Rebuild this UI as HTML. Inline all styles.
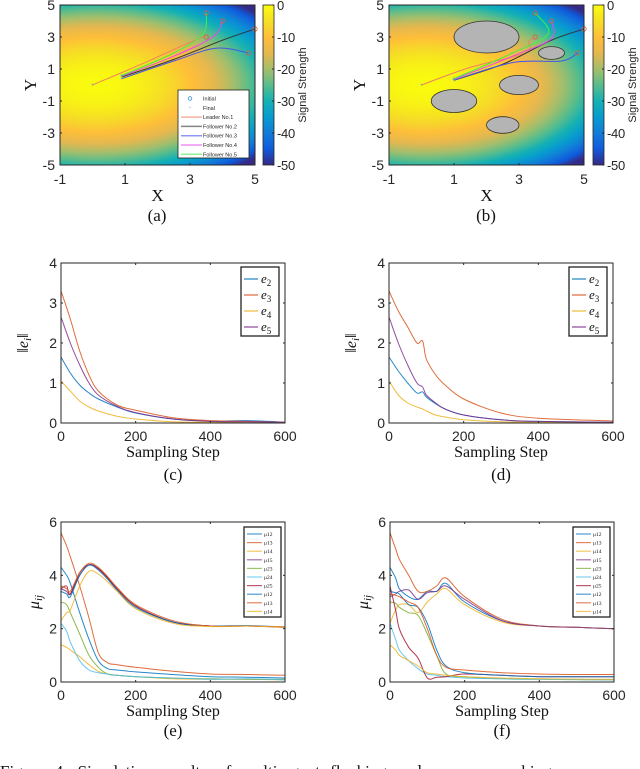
<!DOCTYPE html>
<html><head><meta charset="utf-8">
<style>
html,body{margin:0;padding:0;background:#fff;}
#wrap{position:relative;width:640px;height:769px;overflow:hidden;}
canvas{position:absolute;}
svg{position:absolute;left:0;top:0;}
.tk{font-family:"Liberation Sans",sans-serif;fill:#262626;}
.sr{font-family:"Liberation Serif",serif;fill:#111;}
</style></head>
<body>
<div id="wrap">
<canvas id="hmA" width="195" height="160" style="left:60px;top:5px"></canvas>
<canvas id="cbA" width="11" height="160" style="left:263px;top:5px"></canvas>
<canvas id="hmB" width="195" height="160" style="left:389px;top:5px"></canvas>
<canvas id="cbB" width="11" height="160" style="left:593px;top:5px"></canvas>
<svg id="svg" width="640" height="769" xmlns="http://www.w3.org/2000/svg"></svg>
</div>
<script>
// ---- data ----
const errSteps = [0,25,50,75,100,150,200,300,400,500,600];
const errC_e2 = [1.65,1.25,0.95,0.75,0.6,0.4,0.25,0.1,0.05,0.06,0.02];
const errC_e3 = [3.3,2.6,1.8,1.2,0.8,0.45,0.32,0.13,0.06,0.04,0.02];
const errC_e4 = [1.05,0.8,0.55,0.4,0.3,0.17,0.1,0.03,0.02,0.01,0.01];
const errC_e5 = [2.65,2.0,1.45,1.0,0.7,0.42,0.26,0.1,0.04,0.03,0.02];
const errStepsD = [0,25,50,75,90,100,125,150,200,300,400,600];
const errD_e2 = [1.65,1.3,1.0,0.75,0.78,0.65,0.48,0.35,0.2,0.08,0.04,0.02];
const errD_e3 = [3.3,2.8,2.4,2.0,2.05,1.6,1.2,0.95,0.6,0.25,0.12,0.05];
const errD_e4 = [1.05,0.7,0.5,0.4,0.35,0.3,0.2,0.15,0.08,0.03,0.02,0.01];
const errD_e5 = [2.65,2.0,1.45,1.0,0.9,0.7,0.5,0.35,0.2,0.08,0.04,0.02];
const errLabels = ['2','3','4','5'];
const errTicksY = [0,1,2,3,4];
const stepTicks = [0,200,400,600];
const muSteps = [0,15,25,50,75,100,125,150,200,300,400,500,600];
const muE = [
 [4.3,4.0,3.7,2.6,1.6,0.8,0.5,0.45,0.38,0.28,0.2,0.18,0.15],
 [5.6,5.1,4.7,3.6,2.4,1.1,0.72,0.65,0.55,0.4,0.3,0.28,0.25],
 [1.4,1.3,1.2,0.95,0.65,0.4,0.3,0.25,0.2,0.12,0.1,0.1,0.08],
 [3.5,3.4,3.3,4.0,4.4,4.25,3.9,3.5,2.85,2.25,2.1,2.1,2.05],
 [3.0,2.9,2.6,1.8,1.0,0.55,0.3,0.25,0.2,0.15,0.12,0.1,0.1],
 [2.2,1.9,1.5,0.8,0.45,0.35,0.3,0.25,0.2,0.15,0.1,0.12,0.08],
 [3.5,3.6,3.3,4.1,4.4,4.25,3.9,3.5,2.85,2.25,2.1,2.1,2.05],
 [3.4,3.3,3.2,4.0,4.38,4.2,3.85,3.45,2.8,2.25,2.1,2.12,2.05],
 [3.6,3.5,3.4,4.1,4.45,4.3,3.95,3.55,2.9,2.3,2.1,2.1,2.07],
 [2.3,2.6,2.7,3.6,4.15,4.05,3.75,3.4,2.75,2.2,2.08,2.1,2.05]
];
const muF = [
 [4.3,3.9,3.5,3.2,3.1,3.4,3.4,3.7,3.0,2.3,2.1,2.05,2.0],
 [5.6,5.0,4.6,4.0,3.4,3.4,3.6,3.9,3.2,2.35,2.1,2.05,2.0],
 [2.2,2.7,2.9,2.9,2.6,3.0,3.3,3.5,2.9,2.25,2.1,2.05,2.0],
 [3.2,3.3,3.4,3.45,3.1,3.35,3.4,3.6,3.1,2.3,2.1,2.05,2.0],
 [3.0,2.95,2.8,2.6,2.5,1.8,1.0,0.3,0.2,0.12,0.1,0.09,0.08],
 [2.2,1.6,1.2,0.8,0.5,0.3,0.25,0.2,0.15,0.12,0.1,0.09,0.08],
 [3.6,2.7,2.0,1.3,0.9,0.15,0.18,0.2,0.3,0.25,0.2,0.2,0.2],
 [3.4,3.35,3.3,2.9,2.8,2.2,1.2,0.6,0.35,0.25,0.2,0.2,0.2],
 [3.3,3.25,3.2,3.0,2.8,2.0,1.0,0.55,0.45,0.35,0.3,0.28,0.28],
 [1.4,1.2,1.0,0.8,0.6,0.35,0.3,0.25,0.2,0.15,0.12,0.11,0.1]
];
const muLabels = ['12','13','14','15','23','24','25','12','13','14'];
const muTicksY = [0,2,4,6];
const xyTicks = [-1,1,3,5];
const xyTicksY = [5,3,1,-1,-3,-5];
const cbTicks = [0,-10,-20,-30,-40,-50];
const obstacles = [[2,3,1,1],[4,2,0.4,0.4],[3,0,0.6,0.6],[1,-1,0.7,0.72],[2.5,-2.5,0.5,0.52]];
const trajA = [
 [[0,0],[1.5,1.3],[3.2,2.85],[3.5,3]],
 [[0.9,0.5],[2.5,1.6],[4,2.8],[5,3.5]],
 [[0.9,0.4],[2.5,1.5],[3.8,2.3],[4.8,2]],
 [[0.9,0.55],[2.5,1.8],[3.7,3],[4,4]],
 [[0.9,0.6],[2.5,2],[3.4,3.2],[3.5,4.5]]
];
const trajB = [
 [[0,0],[1.5,1.1],[3.2,2],[3.3,2.7],[3.5,3]],
 [[1,0.3],[2.5,1.3],[4,2.8],[5,3.5]],
 [[1,0.3],[2.8,1.4],[4.3,1.5],[4.8,2]],
 [[1,0.35],[2.8,1.8],[4,2.9],[4,4]],
 [[1,0.4],[2.8,2],[3.9,3.2],[3.5,4.5]]
];
const trajColors = ['#f08060','#333','#4455ee','#ee44ee','#44ee44'];
const cols = ['#0072BD','#D95319','#EDB120','#7E2F8E','#77AC30','#4DBEEE','#A2142F','#0072BD','#D95319','#EDB120'];

// ---- helpers ----
const parula=[[53,42,135],[15,92,221],[18,125,216],[7,156,207],[21,177,180],[89,189,140],[165,190,107],[228,184,80],[254,190,58],[246,222,38],[249,251,14]];
function cmap(t){t=Math.max(0,Math.min(1,t));const n=parula.length-1;const f=t*n,i=Math.min(n-1,Math.floor(f)),r=f-i;return parula[i].map((c,k)=>Math.round(c+(parula[i+1][k]-c)*r));}
function field(x,y){return -1.12*((x-0.1)*(x-0.1)+y*y);}
function heat(id){const c=document.getElementById(id),g=c.getContext('2d'),im=g.createImageData(195,160);
 for(let j=0;j<160;j++)for(let i=0;i<195;i++){const x=-1+6*(i+.5)/195,y=5-10*(j+.5)/160;const col=cmap((field(x,y)+50)/50);const p=(j*195+i)*4;im.data[p]=col[0];im.data[p+1]=col[1];im.data[p+2]=col[2];im.data[p+3]=255;}
 g.putImageData(im,0,0);}
function cbar(id){const c=document.getElementById(id),g=c.getContext('2d');for(let j=0;j<160;j++){const col=cmap(1-j/159);g.fillStyle='rgb('+col+')';g.fillRect(0,j,11,1);}}
heat('hmA');heat('hmB');cbar('cbA');cbar('cbB');

const svg=document.getElementById('svg');const NS='http://www.w3.org/2000/svg';
function el(tag,attrs,parent,txt){const e=document.createElementNS(NS,tag);for(const k in attrs)e.setAttribute(k,attrs[k]);if(txt!==undefined)e.textContent=txt;(parent||svg).appendChild(e);return e;}
function smooth(pts){let d='M'+pts[0][0].toFixed(1)+','+pts[0][1].toFixed(1);
 for(let i=0;i<pts.length-1;i++){const p0=pts[Math.max(0,i-1)],p1=pts[i],p2=pts[i+1],p3=pts[Math.min(pts.length-1,i+2)];
 d+=' C'+(p1[0]+(p2[0]-p0[0])/6).toFixed(1)+','+(p1[1]+(p2[1]-p0[1])/6).toFixed(1)+' '+(p2[0]-(p3[0]-p1[0])/6).toFixed(1)+','+(p2[1]-(p3[1]-p1[1])/6).toFixed(1)+' '+p2[0].toFixed(1)+','+p2[1].toFixed(1);}
 return d;}
function axes(L,T,W,H){const b=el('rect',{x:L,y:T,width:W,height:H,fill:'none',stroke:'#262626','stroke-width':1});}
function caption(x,y,t){const e=el('text',{x:x,y:y,'text-anchor':'middle','font-size':17,class:'sr'},svg,t);}

// ---- map panels ----
function mapPanel(L,cbL,traj,obs,tag,withLegend){
 const T=5,W=195,H=160;const sx=x=>L+(x+1)/6*W,sy=y=>T+(5-y)/10*H;
 const g=el('g',{});
 if(obs)obs.forEach(o=>{const e=el('ellipse',{cx:sx(o[0]),cy:sy(o[1]),rx:o[2]/6*W,ry:o[3]/10*H,fill:'#b4b4b4',stroke:'#333','stroke-width':0.8},g);});
 traj.forEach((tr,k)=>{const p=tr.map(q=>[sx(q[0]),sy(q[1])]);const e=el('path',{d:smooth(p),fill:'none',stroke:trajColors[k],'stroke-width':1},g);
  const s=p[p.length-1];el('circle',{cx:s[0],cy:s[1],r:2.2,fill:'none',stroke:'#d9633a','stroke-width':0.8},g);
  el('text',{x:p[0][0],y:p[0][1]+2,'font-size':6,fill:'#3aa0e0','text-anchor':'middle'},g,'+');});
 axes(L,T,W,H);
 xyTicks.forEach(v=>{el('line',{x1:sx(v),x2:sx(v),y1:T+H,y2:T+H-2,stroke:'#262626'},g);const e=el('text',{x:sx(v),y:184,'text-anchor':'middle','font-size':14,class:'tk'},g,v);});
 xyTicksY.forEach(v=>{el('line',{x1:L,x2:L+2,y1:sy(v),y2:sy(v),stroke:'#262626'},g);const e=el('text',{x:L-5,y:sy(v)+5,'text-anchor':'end','font-size':14,class:'tk'},g,v);});
 let e=el('text',{x:L+W/2,y:201,'text-anchor':'middle','font-size':17,class:'sr'},g,'X');
 e=el('text',{x:0,y:0,'text-anchor':'middle','font-size':17,class:'sr',transform:'translate('+(L-24)+','+(T+H/2)+') rotate(-90)'},g,'Y');
 el('rect',{x:cbL,y:T,width:11,height:H,fill:'none',stroke:'#262626','stroke-width':0.8},g);
 cbTicks.forEach(v=>{const y=T+(-v)/50*H;el('line',{x1:cbL+11,x2:cbL+9,y1:y,y2:y,stroke:'#262626'},g);const t=el('text',{x:cbL+14,y:y+5,'font-size':13,'letter-spacing':'-0.3',class:'tk'},g,v);});
 e=el('text',{x:0,y:0,'text-anchor':'middle','font-size':11,class:'tk',transform:'translate('+(cbL+43)+','+(T+H/2)+') rotate(-90)'},g,'Signal Strength');
 if(withLegend){const lg=el('g',{},g);
  el('rect',{x:178,y:90,width:71,height:68,fill:'#fff',stroke:'#222','stroke-width':0.8},lg);
  const names=['Initial','Final','Leader No.1','Follower No.2','Follower No.3','Follower No.4','Follower No.5'];
  names.forEach((n,i)=>{const y=100+i*9.3;
   if(i==0)el('circle',{cx:190,cy:y-1.5,r:1.8,fill:'none',stroke:'#3a8fd0','stroke-width':0.8},lg);
   else if(i==1)el('text',{x:190,y:y+0.5,'font-size':6,fill:'#7bb8e8','text-anchor':'middle'},lg,'+');
   else el('line',{x1:181,x2:202,y1:y-1.5,y2:y-1.5,stroke:trajColors[i-2],'stroke-width':1.5,opacity:0.6},lg);
   const t=el('text',{x:203,y:y+0.5,'font-size':5.5,class:'tk'},lg,n);});}
}
mapPanel(60,263,trajA,null,'a',true);
mapPanel(389,593,trajB,obstacles,'b',false);
caption(157,221,'(a)');caption(486,221,'(b)');

// ---- line panels ----
function linePanel(L,T,steps,series,colors,ymax,yticks,tag,legend){
 const W=224,H=160;const sx=x=>L+x/600*W,sy=y=>T+H-y/ymax*H;
 const g=el('g',{});
 series.forEach((s,k)=>{const p=s.map((v,i)=>[sx(steps[i]),sy(v)]);const e=el('path',{d:smooth(p),fill:'none',stroke:colors[k],'stroke-width':1,opacity:0.85},g);});
 axes(L,T,W,H);
 stepTicks.forEach(v=>{el('line',{x1:sx(v),x2:sx(v),y1:T+H,y2:T+H-2,stroke:'#262626'},g);el('line',{x1:sx(v),x2:sx(v),y1:T,y2:T+2,stroke:'#262626'},g);const e=el('text',{x:sx(v),y:T+H+18,'text-anchor':'middle','font-size':14,class:'tk'},g,v);});
 yticks.forEach(v=>{el('line',{x1:L,x2:L+2,y1:sy(v),y2:sy(v),stroke:'#262626'},g);el('line',{x1:L+W,x2:L+W-2,y1:sy(v),y2:sy(v),stroke:'#262626'},g);const e=el('text',{x:L-4,y:sy(v)+5,'text-anchor':'end','font-size':14,class:'tk'},g,v);});
 let e=el('text',{x:L+W/2,y:T+H+34,'text-anchor':'middle','font-size':16,class:'sr'},g,'Sampling Step');
 legend(g,L,T,sx,sy);
}
function errLegend(g,L,T){const lg=el('g',{},g);
 el('rect',{x:L+180,y:T+4,width:38,height:69,fill:'#fff',stroke:'#222','stroke-width':1.3},lg);
 errLabels.forEach((n,i)=>{const y=T+16+i*16;el('line',{x1:L+183,x2:L+197,y1:y,y2:y,stroke:cols[i],'stroke-width':1.5,opacity:0.7},lg);
  const t=el('text',{x:L+200,y:y+4,'font-size':13,class:'sr','font-style':'italic'},lg);
  t.appendChild(document.createTextNode('e'));el('tspan',{'font-size':9,'font-style':'normal',dy:3},t,n);});
 const e=el('text',{x:0,y:0,'text-anchor':'middle','font-size':16,class:'sr','font-style':'italic',transform:'translate('+(L-33)+','+(T+80)+') rotate(-90)'},g,'‖e');
 el('tspan',{'font-size':11,dy:3},e,'i');el('tspan',{dy:-3,'font-style':'normal'},e,'‖');}
function muLegend(g,L,T){const lg=el('g',{},g);
 el('rect',{x:L+183,y:T+5,width:37,height:90,fill:'#fff',stroke:'#222','stroke-width':1.3},lg);
 muLabels.forEach((n,i)=>{const y=T+12+i*8.6;el('line',{x1:L+186,x2:L+201,y1:y,y2:y,stroke:cols[i],'stroke-width':1.2,opacity:0.7},lg);
  const t=el('text',{x:L+203,y:y+2,'font-size':5.5,class:'sr'},lg,'μ'+n);});
 const e=el('text',{x:0,y:0,'text-anchor':'middle','font-size':16,class:'sr','font-style':'italic',transform:'translate('+(L-22)+','+(T+80)+') rotate(-90)'},g,'μ');
 el('tspan',{'font-size':11,dy:3},e,'ij');}
linePanel(61,263,errSteps,[errC_e2,errC_e3,errC_e4,errC_e5],cols,4,errTicksY,'c',errLegend);
linePanel(389,263,errStepsD,[errD_e2,errD_e3,errD_e4,errD_e5],cols,4,errTicksY,'d',errLegend);
caption(173,480,'(c)');caption(501,480,'(d)');
linePanel(61,522,muSteps,muE,cols,6,muTicksY,'e',muLegend);
linePanel(390,522,muSteps,muF,cols,6,muTicksY,'f',muLegend);
caption(173,736,'(e)');caption(502,736,'(f)');
const cap=el('text',{x:0,y:777,'font-size':17,class:'sr','word-spacing':'6'},svg,'Figure 4.   Simulation results of multi-agent flocking and source searching');

</script>
</body></html>
